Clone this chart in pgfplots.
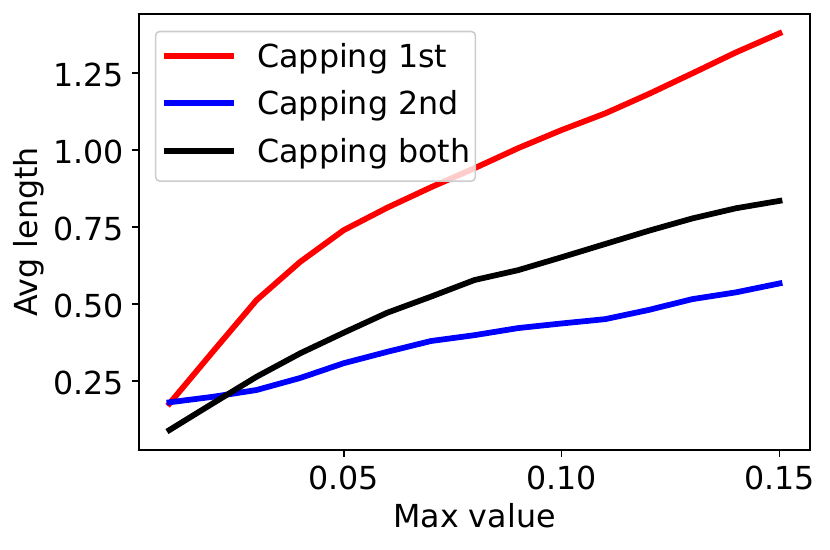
\documentclass[border=0pt]{standalone}
\usepackage{fontspec}
\setmainfont{DejaVu Sans}
\usepackage{pgfplots}
\pgfplotsset{compat=1.18}

\pgfplotstableread{
x     first  second both
0.01  0.176  0.180  0.090
0.02  0.345  0.198  0.177
0.03  0.512  0.220  0.263
0.04  0.636  0.259  0.339
0.05  0.739  0.307  0.406
0.06  0.812  0.344  0.471
0.07  0.878  0.379  0.523
0.08  0.940  0.398  0.577
0.09  1.005  0.421  0.609
0.10  1.064  0.436  0.651
0.11  1.118  0.450  0.694
0.12  1.181  0.480  0.737
0.13  1.248  0.515  0.777
0.14  1.316  0.537  0.810
0.15  1.378  0.566  0.834
}\datatable

\newcommand{\labfont}{\fontsize{16.5}{19.8}\selectfont}
\newcommand{\legfont}{\fontsize{16.5}{19.8}\selectfont}

\begin{document}
\begin{tikzpicture}
  \begin{axis}[
      scale only axis,
      width=349.2pt, height=226.9pt,
      xmin=0.003, xmax=0.157,
      ymin=0.025, ymax=1.4406,
      xtick={0.05,0.10,0.15},
      ytick={0.25,0.5,0.75,1.0,1.25},
      tick align=outside,
      tick pos=left,
      major tick length=3.5pt,
      every tick/.style={black, line width=0.8pt},
      axis line style={line width=0.8pt},
      /pgf/number format/assume math mode=true,
      /pgf/number format/.cd, fixed, fixed zerofill, precision=2, /pgfplots/.cd,
      tick label style={font=\labfont},
      xticklabel style={yshift=-1.5pt},
      yticklabel style={xshift=-0.8pt, yshift=-1.3pt},
      xlabel={Max value},
      ylabel={Avg length},
      label style={font=\labfont},
      xlabel style={at={(axis description cs:0.5,0)}, anchor=base, yshift=-40.1pt},
      ylabel style={at={(axis description cs:-0.1638,0.5)}, anchor=center, rotate=0},
      legend cell align=left,
      legend image code/.code={\draw[#1, line cap=butt] (0pt,1.6pt) -- (36.8pt,1.6pt);},
      legend style={
        at={(0,1)}, anchor=north west, xshift=8.3pt, yshift=-8.7pt,
        draw=black!20, line width=0.8pt, rounded corners=2pt,
        fill=white, fill opacity=0.8, text opacity=1,
        inner xsep=2.6pt, inner ysep=6.2pt, row sep=8.7pt,
        font=\legfont,
        nodes={inner sep=0pt, text height=12.5pt, text depth=3.5pt},
        /tikz/every odd column/.append style={column sep=10.5pt},
      },
    ]
    \addplot[red, line width=3pt, line cap=rect, line join=round] table[x=x, y=first] {\datatable};
    \addplot[blue, line width=3pt, line cap=rect, line join=round] table[x=x, y=second] {\datatable};
    \addplot[black, line width=3pt, line cap=rect, line join=round] table[x=x, y=both] {\datatable};
    \legend{Capping 1st, Capping 2nd, Capping both}
  \end{axis}
  \pgfresetboundingbox
  \path[use as bounding box] ([shift={(-72.3pt,-51.5pt)}]current axis.south west) rectangle ([shift={(10.4pt,7.3pt)}]current axis.north east);
\end{tikzpicture}
\end{document}
